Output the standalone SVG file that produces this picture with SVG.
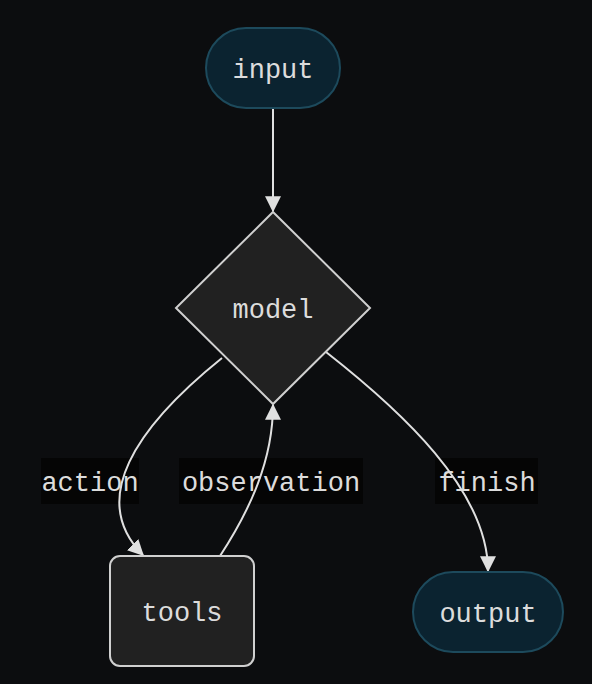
<svg xmlns="http://www.w3.org/2000/svg" width="592" height="684" viewBox="0 0 592 684">
<defs>
<style>
.t{font-family:"Liberation Mono","DejaVu Sans Mono",monospace;font-size:27px;fill:#dcdcdc;text-anchor:middle}
.term{fill:#0b2330;stroke:#1d4a5c;stroke-width:2}
.proc{fill:#212121;stroke:#d0d0d0;stroke-width:2}
.e{fill:none;stroke:#e0e0e0;stroke-width:2}
.lb{fill:#050505}
</style>
<marker id="a" viewBox="0 0 12 12" refX="11" refY="6" markerWidth="16" markerHeight="16" markerUnits="userSpaceOnUse" orient="auto">
<path d="M0,0 L12,6 L0,12 z" fill="#e0e0e0"/>
</marker>
</defs>
<rect width="592" height="684" fill="#0c0d0f"/>
<g id="labels">
<g id="label-action"><rect class="lb" x="41" y="458" width="98" height="46"/><text class="t" x="90" y="491">action</text></g>
<g id="label-observation"><rect class="lb" x="179" y="458" width="184" height="46"/><text class="t" x="271" y="491">observation</text></g>
<g id="label-finish"><rect class="lb" x="435" y="458" width="103" height="46"/><text class="t" x="487" y="491">finish</text></g>
</g>
<g id="connectors">
<path class="e" d="M273,108 L273,211" marker-end="url(#a)"/>
<path class="e" d="M222,358 C135,428 88,500 143,555" marker-end="url(#a)"/>
<path class="e" d="M220,556 C250,510 273,460 273,405" marker-end="url(#a)"/>
<path class="e" d="M326,352 C400,410 488,490 488,571" marker-end="url(#a)"/>
</g>
<g id="input"><rect class="term" x="206" y="28" width="134" height="80" rx="40"/><text class="t" x="273" y="78">input</text></g>
<g id="model"><polygon class="proc" points="273,212 370,308 273,404 176,308"/><text class="t" x="273" y="318">model</text></g>
<g id="tools"><rect class="proc" x="110" y="556" width="144" height="110" rx="10"/><text class="t" x="182" y="621">tools</text></g>
<g id="output"><rect class="term" x="413" y="572" width="150" height="80" rx="40"/><text class="t" x="488" y="622">output</text></g>
</svg>
